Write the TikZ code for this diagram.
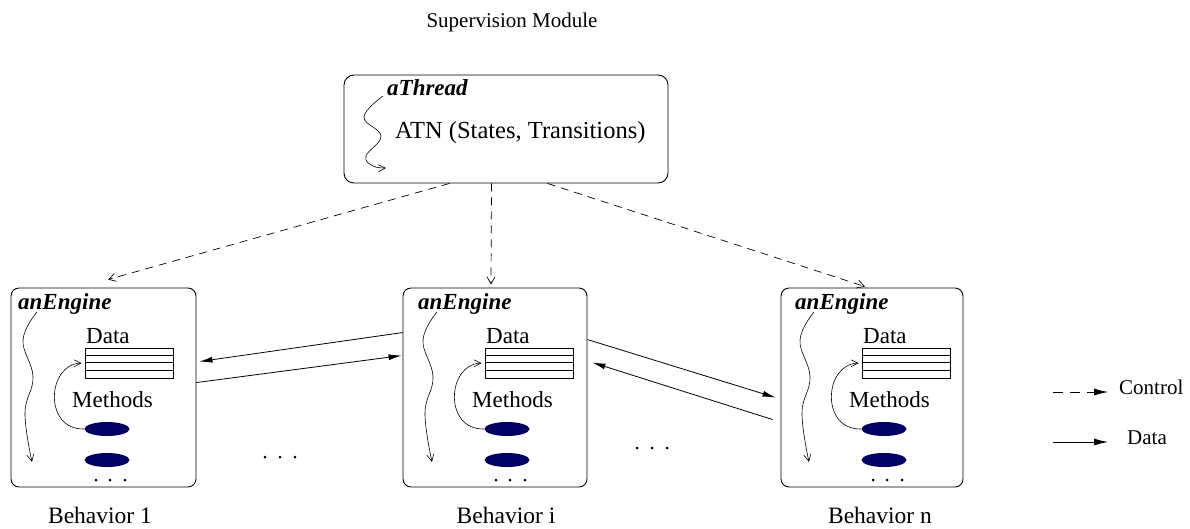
\documentclass[tikz,border=0pt]{standalone}
\usepackage{fontspec}
\setmainfont{Liberation Serif}
\usetikzlibrary{arrows.meta,calc,shapes.geometric}
\definecolor{navyfill}{RGB}{0,0,100}
\begin{document}
\begin{tikzpicture}[x=1pt,y=-1pt,
  frame/.style={draw, rounded corners=8pt, line width=0.9pt, inner sep=0pt},
  lbl/.style={font=\fontsize{23.5}{27}\selectfont, inner sep=0pt},
  legendtxt/.style={font=\fontsize{21}{25}\selectfont, inner sep=0pt},
  body/.style={font=\fontsize{23}{27}\selectfont, inner sep=0pt},
  ttl/.style={font=\fontsize{23}{27}\selectfont\bfseries\itshape, inner sep=0pt},
  ctrl/.style={dash pattern=on 8pt off 6pt, line width=0.7pt, -{Straight Barb[length=7pt,width=8pt]}},
  dataarrow/.style={line width=0.8pt, -{Latex[length=13pt,width=6pt]}},
  flow/.style={line width=0.6pt, -{Straight Barb[length=7pt,width=7pt]}},
  meth/.style={ellipse, fill=navyfill, minimum width=45pt, minimum height=14pt, inner sep=0pt},
  smalldot/.style={circle, fill=black, minimum size=3pt, inner sep=0pt},
  tabbox/.style={draw, line width=0.8pt, minimum width=88pt, minimum height=30pt, inner sep=0pt},
]
\useasboundingbox (0,0) rectangle (1190,528);

\node[legendtxt] (supmod) at (512,22) {Supervision Module};

% top box
\node[frame, rounded corners=10pt, minimum width=324pt, minimum height=108pt] (sup) at (506,129) {};
\node[ttl, anchor=base west] (ath) at (387,95) {aThread};
\node[body, font=\fontsize{24.5}{28}\selectfont, anchor=west] (atn) at (395,133) {ATN (States, Transitions)};
\draw[flow] plot[smooth, tension=0.7] coordinates {(383,96) (364,117) (381,136) (366,156) (373,166) (386,168)};

% behavior boxes
\foreach \nm/\bl/\br/\T/\lab/\lx in {b1/11/196/85/1/100, bi/403/587/485/i/506, bn/781/963/862/n/880} {
  \pgfmathsetmacro{\cx}{(\bl+\br)/2}
  \pgfmathsetmacro{\w}{\br-\bl}
  \node[frame, minimum width=\w pt, minimum height=199pt] (\nm) at (\cx,387.5) {};
  \node[ttl, anchor=base west] (\nm-t) at (\T-67,309) {anEngine};
  \node[body, anchor=west] (\nm-d) at (\T+1,336) {Data};
  \node[tabbox] (\nm-tab) at (\T+44,363) {};
  \foreach \k in {7.5,15,22.5} {
    \draw[line width=0.8pt] ($(\nm-tab.north west)+(0,\k)$) -- ($(\nm-tab.north east)+(0,\k)$);
  }
  \node[body, anchor=west] (\nm-m) at (\T-13,400) {Methods};
  \node[meth] (\nm-e1) at (\T+22,429) {};
  \node[meth] (\nm-e2) at (\T+22,460) {};
  \node[smalldot] at (\T+11,480) {};
  \node[smalldot] at (\T+25,480) {};
  \node[smalldot] at (\T+40,480) {};
  \draw[flow, shorten >=3pt] (\nm-e1.west) .. controls (\T-42,430) and (\T-38,364) .. (\nm-tab.west);
  \draw[flow] plot[smooth, tension=0.7] coordinates {(\T-48,312) (\T-62,340) (\T-52,377) (\T-60,413) (\T-53,462)};
  \node[lbl, anchor=base] (\nm-lab) at (\lx,523) {Behavior \lab};
}

% dots between boxes
\foreach \x in {265,280,295} { \node[smalldot] at (\x,457) {}; }
\foreach \x in {637,652,667} { \node[smalldot] at (\x,448) {}; }

% control arrows
\draw[ctrl] ([xshift=-56.5pt]sup.south) -- ([xshift=4.5pt,yshift=8pt]b1.north);
\draw[ctrl] ([xshift=-14.5pt]sup.south) -- ([xshift=-4pt,yshift=3pt]bi.north);
\draw[ctrl] ([xshift=41.5pt]sup.south) -- ([xshift=-7pt,yshift=1pt]bn.north);

% data arrows
\draw[dataarrow] ([yshift=-45pt]bi.north west) -- ([xshift=3pt,yshift=-74pt]b1.north east);
\draw[dataarrow] ([yshift=-95pt]b1.north east) -- ([xshift=-1pt,yshift=-68pt]bi.north west);
\draw[dataarrow] ([yshift=-52pt]bi.north east) -- ([xshift=-5pt,yshift=-110pt]bn.north west);
\draw[dataarrow] ([xshift=-8pt,yshift=-132pt]bn.north west) -- ([xshift=5pt,yshift=-75pt]bi.north east);

% legend
\node[legendtxt, anchor=west] (lc) at (1119,387) {Control};
\node[legendtxt, anchor=west] (ld) at (1127,438) {Data};
\coordinate (lc0) at (1053,392);
\coordinate (ld0) at (1053,442);
\draw[dash pattern=on 10pt off 7pt, line width=0.8pt, -{Latex[length=14pt,width=7pt]}, shorten >=11pt] (lc0) -- (lc0 -| lc.west);
\draw[line width=0.8pt, -{Latex[length=14pt,width=7pt]}, shorten >=19pt] (ld0) -- (ld0 -| ld.west);
\end{tikzpicture}
\end{document}
